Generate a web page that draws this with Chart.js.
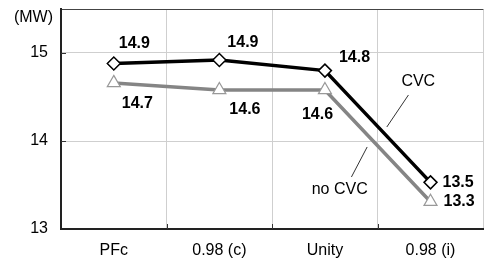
<!DOCTYPE html>
<html>
<head>
<meta charset="utf-8">
<script src="https://cdn.jsdelivr.net/npm/chart.js@4/dist/chart.umd.min.js"></script>
<style>
html,body{margin:0;padding:0;background:#fff;overflow:hidden;}
#wrap{width:492px;height:263px;}
</style>
</head>
<body>
<div id="wrap"><canvas id="c" width="492" height="263"></canvas></div>
<script>
const categories = ["PFc", "0.98 (c)", "Unity", "0.98 (i)"];
const cvcValues = [14.88, 14.92, 14.80, 13.53];
const noCvcValues = [14.66, 14.58, 14.58, 13.31];
const yTicks = [13, 14, 15];
const unitLabel = "(MW)";
const seriesNames = ["CVC", "no CVC"];

const FONT = "'Liberation Sans', Arial, sans-serif";

// label offsets (style only): [dx from point to label left, dy]
const labelOffsets = [
  [[5, -20], [8, -17], [14, -13], [12, 0]],
  [[8, 21], [10, 20], [-23, 25], [13, 0]]
];

const overlayPlugin = {
  id: 'overlay',
  afterDatasetsDraw(chart) {
    const ctx = chart.ctx;
    const xs = chart.scales.x, ys = chart.scales.y;
    const area = chart.chartArea;
    ctx.save();
    ctx.strokeStyle = '#333';
    ctx.lineWidth = 1;
    yTicks.forEach(v => {
      if (v === ys.min) return;
      const y = Math.round(ys.getPixelForValue(v)) + 0.5;
      ctx.beginPath(); ctx.moveTo(area.left, y); ctx.lineTo(area.left + 5, y); ctx.stroke();
    });
    for (let i = 1; i < categories.length; i++) {
      const x = Math.round(xs.getPixelForValue(i - 0.5)) + 0.5;
      ctx.beginPath(); ctx.moveTo(x, area.bottom); ctx.lineTo(x, area.bottom - 5); ctx.stroke();
    }
    ctx.fillStyle = '#000';
    ctx.font = 'bold 16px ' + FONT;
    ctx.textAlign = 'left';
    ctx.textBaseline = 'middle';
    chart.data.datasets.forEach((ds, di) => {
      const meta = chart.getDatasetMeta(di);
      meta.data.forEach((pt, i) => {
        const off = labelOffsets[di][i];
        ctx.fillText(ds.data[i].toFixed(1), pt.x + off[0], pt.y + off[1]);
      });
    });
    ctx.font = '16px ' + FONT;
    ctx.textAlign = 'center';
    const P = (i, v) => [xs.getPixelForValue(i), ys.getPixelForValue(v)];
    let t = P(2.884, 14.67);
    ctx.fillText(seriesNames[0], t[0], t[1]);
    let a = P(2.791, 14.523), b = P(2.586, 14.159);
    ctx.beginPath(); ctx.moveTo(a[0], a[1]); ctx.lineTo(b[0], b[1]); ctx.stroke();
    t = P(2.140, 13.443);
    ctx.fillText(seriesNames[1], t[0], t[1]);
    a = P(2.251, 13.591); b = P(2.400, 13.932);
    ctx.beginPath(); ctx.moveTo(a[0], a[1]); ctx.lineTo(b[0], b[1]); ctx.stroke();
    ctx.textAlign = 'right';
    ctx.fillText(unitLabel, area.left - 8, 18);
    ctx.restore();
  }
};

new Chart(document.getElementById('c'), {
  type: 'line',
  data: {
    labels: categories,
    datasets: [
      {
        label: seriesNames[0],
        data: cvcValues,
        borderColor: '#000',
        borderWidth: 3.5,
        pointStyle: 'rectRot',
        pointRadius: 6.5,
        pointBackgroundColor: '#fff',
        pointBorderColor: '#000',
        pointBorderWidth: 1.5,
        tension: 0,
        order: 0
      },
      {
        label: seriesNames[1],
        data: noCvcValues,
        borderColor: '#858585',
        borderWidth: 3.5,
        pointStyle: 'triangle',
        pointRadius: 7.5,
        pointBackgroundColor: '#fff',
        pointBorderColor: '#999',
        pointBorderWidth: 1.2,
        tension: 0,
        order: 1
      }
    ]
  },
  options: {
    responsive: false,
    animation: false,
    devicePixelRatio: 1,
    layout: { padding: { top: 9, left: 0, right: 0, bottom: 0 } },
    plugins: { legend: { display: false }, tooltip: { enabled: false } },
    scales: {
      x: {
        type: 'category',
        offset: true,
        afterFit(s) { s.height = 34; s.paddingLeft = 0; s.paddingRight = 0; },
        grid: {
          offset: true,
          drawTicks: false,
          color: c => (c.index === 0 || c.index === categories.length) ? 'rgba(0,0,0,0)' : '#cfcfcf',
          lineWidth: 1
        },
        border: { color: '#222', width: 2 },
        ticks: { color: '#000', font: { family: FONT, size: 16 }, padding: 12, maxRotation: 0 }
      },
      y: {
        min: 13,
        max: 15.5,
        afterFit(s) { s.width = 61; s.paddingTop = 0; s.paddingBottom = 0; },
        grid: {
          drawTicks: false,
          color: c => c.tick.value === 15.5 ? '#444' : (c.tick.value === 13 ? 'rgba(0,0,0,0)' : '#cfcfcf'),
          lineWidth: 1
        },
        border: { color: '#222', width: 2 },
        ticks: {
          stepSize: 1,
          color: '#000',
          font: { family: FONT, size: 16 },
          padding: 13,
          callback: v => yTicks.includes(v) ? String(v) : ''
        }
      }
    }
  },
  plugins: [overlayPlugin]
});
</script>
</body>
</html>
